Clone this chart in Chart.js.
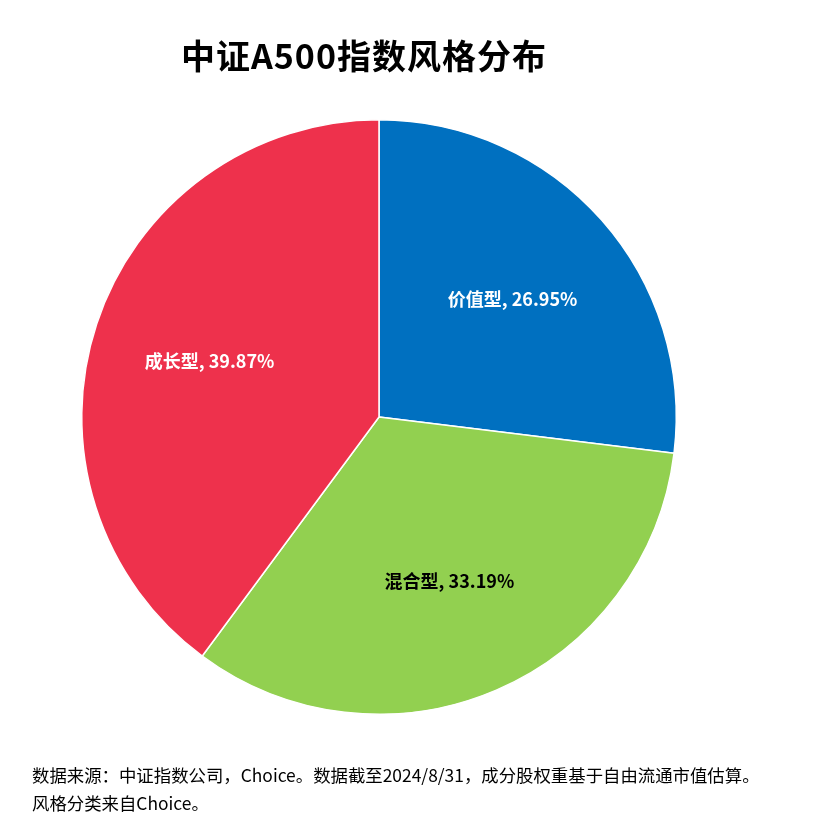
<!DOCTYPE html>
<html><head><meta charset="utf-8">
<script src="https://cdn.jsdelivr.net/npm/chart.js@4"></script>
<style>
body{margin:0;background:#fff;font-family:"Noto Sans CJK SC","Noto Sans",sans-serif}
#wrap{position:relative;width:820px;height:833px}
#title{position:absolute;left:0;width:728px;top:30px;text-align:center;font-size:34px;font-weight:bold;color:#000;letter-spacing:1px}
#note{position:absolute;left:32px;top:761px;font-size:17.4px;line-height:28px;color:#000}
canvas{position:absolute;left:0;top:0}
</style></head><body>
<div id="wrap">
<canvas id="myChart" width="820" height="833"></canvas>
<div id="title">中证A500指数风格分布</div>
<div id="note">数据来源：中证指数公司，Choice。数据截至2024/8/31，成分股权重基于自由流通市值估算。<br>风格分类来自Choice。</div>
</div>
<script>
var labels = ['价值型', '混合型', '成长型']
var values = [26.95, 33.19, 39.87]
var colors = ['#0070C0', '#92D050', '#EE314C']
var labelColors = ['#fff', '#000', '#fff']

var ctx = document.getElementById('myChart')
var sliceLabels = {
	id: 'sliceLabels',
	afterDatasetsDraw: function (chart) {
		var c = chart.ctx
		chart.getDatasetMeta(0).data.forEach(function (arc, i) {
			var mid = (arc.startAngle + arc.endAngle) / 2
			var r = arc.outerRadius * 0.6
			c.save()
			c.font = 'bold 18px "Noto Sans CJK SC", sans-serif'
			c.fillStyle = labelColors[i]
			c.textAlign = 'center'
			c.textBaseline = 'middle'
			c.fillText(labels[i] + ', ' + values[i].toFixed(2) + '%', arc.x + Math.cos(mid) * r, arc.y + Math.sin(mid) * r)
			c.restore()
		})
	}
}
new Chart(ctx, {
	type: 'pie',
	data: { labels: labels, datasets: [{ data: values, backgroundColor: colors, borderColor: '#fff', borderWidth: 1.5 }] },
	options: {
		responsive: false,
		animation: false,
		devicePixelRatio: 1,
		layout: { padding: { left: 81, right: 143, top: 119, bottom: 118 } },
		plugins: { legend: { display: false }, tooltip: { enabled: false } }
	},
	plugins: [sliceLabels]
})
</script>
</body></html>
